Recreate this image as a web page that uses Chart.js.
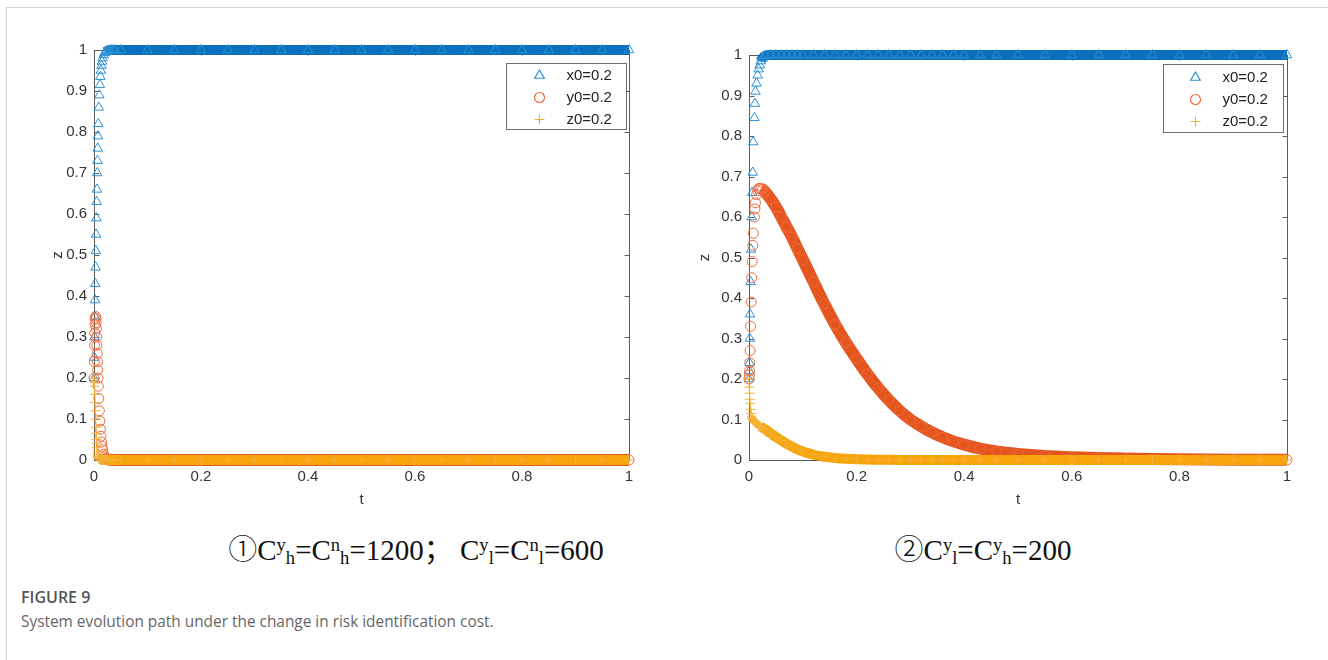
<!DOCTYPE html>
<html>
<head>
<meta charset="utf-8">
<script src="https://cdn.jsdelivr.net/npm/chart.js@4.4.1/dist/chart.umd.min.js"></script>
<style>
  html, body { margin: 0; padding: 0; background: #fff; }
  body { width: 1328px; height: 660px; position: relative; overflow: hidden; }
  .frame { position: absolute; left: 6px; top: 7px; width: 1400px; height: 700px;
    border-top: 1px solid #d2d2d2; border-left: 1px solid #d2d2d2; }
  canvas { position: absolute; }
  #chart1 { left: 40px; top: 30px; }
  #chart2 { left: 695px; top: 30px; }
  .panel-cap { position: absolute; top: 526px; width: 560px; text-align: center; white-space: nowrap;
    font-family: "Liberation Serif", "Times New Roman", "Noto Sans CJK SC", serif; font-size: 29px; color: #111; }
  .panel-cap .sp { font-size: 0.64em; position: relative; top: -0.5em; }
  .panel-cap .sb { font-size: 0.64em; position: relative; top: 0.22em; }
  .panel-cap .circ { font-family: "Noto Sans CJK SC", "DejaVu Sans", serif; font-weight: 300; }
  #cap1 { left: 136px; }
  #cap2 { left: 703px; }
  .fig-title { position: absolute; left: 21px; top: 586px; font-family: "Open Sans", "Noto Sans", sans-serif;
    font-size: 16px; font-weight: 600; color: #555; }
  .fig-text { position: absolute; left: 21px; top: 611px; font-family: "Open Sans", "Noto Sans", sans-serif;
    font-size: 15.4px; color: #666; }
</style>
</head>
<body>
<div class="frame"></div>
<canvas id="chart1" width="610" height="490"></canvas>
<canvas id="chart2" width="615" height="490"></canvas>
<div class="panel-cap" id="cap1"><span class="circ">①</span>C<span class="sp">y</span><span class="sb">h</span>=C<span class="sp">n</span><span class="sb">h</span>=1200；&nbsp;C<span class="sp">y</span><span class="sb">l</span>=C<span class="sp">n</span><span class="sb">l</span>=600</div>
<div class="panel-cap" id="cap2"><span class="circ">②</span>C<span class="sp">y</span><span class="sb">l</span>=C<span class="sp">y</span><span class="sb">h</span>=200</div>
<div class="fig-title">FIGURE 9</div>
<div class="fig-text">System evolution path under the change in risk identification cost.</div>

<script>
// tick labels
const xTicks = [0, 0.2, 0.4, 0.6, 0.8, 1];
const yTicks = [0, 0.1, 0.2, 0.3, 0.4, 0.5, 0.6, 0.7, 0.8, 0.9, 1];
const seriesLabels = ["x0=0.2", "y0=0.2", "z0=0.2"];

// panel 1: Cyh=Cnh=1200, Cyl=Cnl=600
const t1 = [0, 0.0005, 0.001, 0.0015, 0.002, 0.0025, 0.003, 0.0035, 0.004, 0.0045,
  0.005, 0.0055, 0.006, 0.0065, 0.007, 0.0075, 0.008, 0.009, 0.01, 0.011,
  0.012, 0.013, 0.014, 0.015, 0.016, 0.018, 0.02, 0.022, 0.025, 0.028,
  0.032, 0.036, 0.04, 0.05, 0.1, 0.15, 0.2, 0.25, 0.3, 0.35,
  0.4, 0.45, 0.5, 0.55, 0.6, 0.65, 0.7, 0.75, 0.8, 0.85,
  0.9, 0.95, 1];
const x1 = [0.2, 0.25, 0.3, 0.35, 0.39, 0.43, 0.47, 0.51, 0.55, 0.59,
  0.63, 0.66, 0.7, 0.73, 0.76, 0.79, 0.82, 0.86, 0.89, 0.915,
  0.935, 0.95, 0.962, 0.972, 0.98, 0.988, 0.993, 0.996, 0.998, 0.999,
  1, 1, 1, 1, 1, 1, 1, 1, 1, 1,
  1, 1, 1, 1, 1, 1, 1, 1, 1, 1,
  1, 1, 1];
const y1 = [0.2, 0.24, 0.28, 0.31, 0.33, 0.345, 0.35, 0.345, 0.335, 0.32,
  0.3, 0.28, 0.26, 0.24, 0.22, 0.2, 0.18, 0.15, 0.12, 0.095,
  0.075, 0.058, 0.044, 0.033, 0.025, 0.014, 0.008, 0.004, 0.002, 0.001,
  0.0005, 0.0002, 0.0001, 0, 0, 0, 0, 0, 0, 0,
  0, 0, 0, 0, 0, 0, 0, 0, 0, 0,
  0, 0, 0];
const z1 = [0.2, 0.19, 0.18, 0.16, 0.14, 0.12, 0.1, 0.08, 0.065, 0.05,
  0.04, 0.03, 0.022, 0.016, 0.012, 0.008, 0.006, 0.004, 0.003, 0.002,
  0.001, 0.0005, 0, 0, 0, 0, 0, 0, 0, 0,
  0, 0, 0, 0, 0, 0, 0, 0, 0, 0,
  0, 0, 0, 0, 0, 0, 0, 0, 0, 0,
  0, 0, 0];

// panel 2: Cyl=Cyh=200
const t2 = [0, 0.0005, 0.001, 0.0015, 0.002, 0.003, 0.004, 0.005, 0.006, 0.007,
  0.008, 0.01, 0.011, 0.012, 0.014, 0.016, 0.018, 0.02, 0.022, 0.025,
  0.03, 0.04, 0.05, 0.06, 0.07, 0.08, 0.09, 0.1, 0.12, 0.14,
  0.16, 0.18, 0.2, 0.22, 0.24, 0.26, 0.28, 0.3, 0.32, 0.34,
  0.36, 0.38, 0.4, 0.43, 0.46, 0.5, 0.55, 0.6, 0.65, 0.7,
  0.75, 0.8, 0.85, 0.9, 0.95, 1];
const x2 = [0.2, 0.22, 0.24, 0.3, 0.36, 0.44, 0.52, 0.6, 0.66, 0.71,
  0.785, 0.845, 0.88, 0.91, 0.93, 0.95, 0.965, 0.975, 0.985, 0.992,
  0.998, 1, 1, 1, 1, 1, 1, 1, 1, 1,
  1, 1, 1, 1, 1, 1, 1, 1, 1, 1,
  1, 1, 1, 1, 1, 1, 1, 1, 1, 1,
  1, 1, 1, 1, 1, 1];
const y2 = [0.2, 0.21, 0.22, 0.24, 0.27, 0.33, 0.39, 0.45, 0.49, 0.53,
  0.56, 0.6, 0.62, 0.635, 0.655, 0.665, 0.67, 0.671, 0.67, 0.668,
  0.662, 0.645, 0.625, 0.6, 0.575, 0.55, 0.522, 0.495, 0.44, 0.385,
  0.335, 0.29, 0.25, 0.212, 0.178, 0.148, 0.122, 0.1, 0.083, 0.068,
  0.056, 0.046, 0.038, 0.028, 0.021, 0.015, 0.01, 0.007, 0.005, 0.0035,
  0.0025, 0.0018, 0.0013, 0.0009, 0.0006, 0.0004];
const z2 = [0.2, 0.18, 0.165, 0.15, 0.14, 0.125, 0.115, 0.108, 0.103, 0.1,
  0.098, 0.095, 0.093, 0.092, 0.09, 0.088, 0.086, 0.084, 0.082, 0.08,
  0.076, 0.066, 0.057, 0.048, 0.04, 0.033, 0.026, 0.021, 0.013, 0.008,
  0.005, 0.003, 0.002, 0.0012, 0.0008, 0.0005, 0.0003, 0.0002, 0.0001, 0,
  0, 0, 0, 0, 0, 0, 0, 0, 0, 0,
  0, 0, 0, 0, 0, 0];

Chart.defaults.font.family = '"Liberation Sans", Arial, sans-serif';
Chart.defaults.font.size = 15;
Chart.defaults.color = "#333";

// marker look for each series (MATLAB-ish)
const looks = [
  { style: "triangle", radius: 5.5, mark: "#2b92d5", band: "#0b6fbe", width: 10, order: 3 },
  { style: "circle", radius: 5, mark: "#ee6b3d", band: "#e5561f", width: 12, order: 2 },
  { style: "cross", radius: 5, mark: "#f4b034", band: "#f6a50c", width: 10, order: 1 },
];

function make_set(i, t, vals) {
  let lk = looks[i];
  return {
    label: seriesLabels[i],
    data: t.map(function (tv, k) { return { x: tv, y: vals[k] }; }),
    order: lk.order,
    borderColor: lk.band,
    borderWidth: lk.width,
    cubicInterpolationMode: "monotone",
    pointStyle: lk.style,
    pointRadius: lk.radius,
    pointBorderWidth: 1,
    pointBorderColor: lk.mark,
    pointBackgroundColor: "rgba(0,0,0,0)",
    clip: false,
    // dense stretches of markers show up as a solid band, sparse steep jumps do not
    segment: {
      borderColor: function (ctx) {
        return ctx.p1.x - ctx.p0.x > 1.5 ? lk.band : "rgba(0,0,0,0)";
      },
    },
  };
}

// box round the axes with inward ticks
const axesBox = {
  id: "axesBox",
  beforeDatasetsDraw(chart) {
    const ctx = chart.ctx;
    const a = chart.chartArea;
    const sx = chart.scales.x, sy = chart.scales.y;
    ctx.save();
    ctx.strokeStyle = "#5c5c5c";
    ctx.lineWidth = 1;
    const L = Math.round(a.left) + 0.5, R = Math.round(a.right) + 0.5;
    const T = Math.round(a.top) + 0.5, B = Math.round(a.bottom) + 0.5;
    ctx.strokeRect(L, T, R - L, B - T);
    ctx.beginPath();
    sx.ticks.forEach(function (tk) {
      let px = Math.round(sx.getPixelForValue(tk.value)) + 0.5;
      ctx.moveTo(px, B); ctx.lineTo(px, B - 5);
      ctx.moveTo(px, T); ctx.lineTo(px, T + 5);
    });
    sy.ticks.forEach(function (tk) {
      let py = Math.round(sy.getPixelForValue(tk.value)) + 0.5;
      ctx.moveTo(L, py); ctx.lineTo(L + 5, py);
      ctx.moveTo(R, py); ctx.lineTo(R - 5, py);
    });
    ctx.stroke();
    ctx.restore();
  },
};

// legend drawn inside the plot, top right
const innerLegend = {
  id: "innerLegend",
  afterDatasetsDraw(chart, args, opts) {
    const ctx = chart.ctx;
    const a = chart.chartArea;
    let x0 = Math.round(a.right - opts.right - opts.width) + 0.5;
    let y0 = Math.round(a.top + opts.top) + 0.5;
    ctx.save();
    ctx.fillStyle = "#fff";
    ctx.fillRect(x0, y0, opts.width, opts.height);
    ctx.strokeStyle = "#6e6e6e";
    ctx.lineWidth = 1;
    ctx.strokeRect(x0, y0, opts.width, opts.height);
    chart.data.datasets.forEach(function (ds, i) {
      let cy = y0 + opts.rowTop + i * opts.rowGap;
      ctx.strokeStyle = ds.pointBorderColor;
      ctx.fillStyle = "rgba(0,0,0,0)";
      ctx.lineWidth = 1.2;
      Chart.helpers.drawPoint(ctx, { pointStyle: ds.pointStyle, radius: ds.pointRadius, rotation: 0, borderWidth: 1.2 },
        x0 + opts.markerX, cy);
      ctx.fillStyle = "#222";
      ctx.font = '15px "Liberation Sans", Arial, sans-serif';
      ctx.textBaseline = "middle";
      ctx.textAlign = "left";
      ctx.fillText(ds.label, x0 + opts.textX, cy);
    });
    ctx.restore();
  },
};

function create_panel(id, t, xs, ys, zs, pad, zPad, legendPos) {
  new Chart(document.getElementById(id), {
    type: "line",
    data: { datasets: [make_set(0, t, xs), make_set(1, t, ys), make_set(2, t, zs)] },
    plugins: [axesBox, innerLegend],
    options: {
      responsive: false,
      devicePixelRatio: 1,
      animation: false,
      events: [],
      layout: { padding: pad },
      plugins: { legend: { display: false }, tooltip: { enabled: false }, innerLegend: legendPos },
      scales: {
        x: {
          type: "linear",
          min: 0,
          max: 1,
          afterBuildTicks: function (s) { s.ticks = xTicks.map(function (v) { return { value: v }; }); },
          afterFit: function (s) { s.height = 60; },
          ticks: { padding: 8, callback: function (v) { return String(v); } },
          grid: { display: false, drawTicks: false },
          border: { display: false },
          title: { display: true, text: "t", font: { size: 15 }, padding: { top: 0, bottom: 11 } },
        },
        y: {
          min: 0,
          max: 1,
          afterBuildTicks: function (s) { s.ticks = yTicks.map(function (v) { return { value: v }; }); },
          afterFit: function (s) { s.width = 54; },
          ticks: { padding: 7, callback: function (v) { return String(v); } },
          grid: { display: false, drawTicks: false },
          border: { display: false },
          title: { display: true, text: "z", font: { size: 15 }, padding: { top: zPad, bottom: 0 } },
        },
      },
    },
  });
}

create_panel("chart1", t1, x1, y1, z1, { left: 0, top: 20, right: 21, bottom: 0 }, 9,
  { right: 3, top: 13, width: 120, height: 66, rowTop: 12, rowGap: 22, markerX: 33, textX: 60 });
create_panel("chart2", t2, x2, y2, z2, { left: 0, top: 25, right: 23, bottom: 0 }, 1,
  { right: 4, top: 9, width: 120, height: 68, rowTop: 13, rowGap: 22, markerX: 32, textX: 59 });
</script>
</body>
</html>
